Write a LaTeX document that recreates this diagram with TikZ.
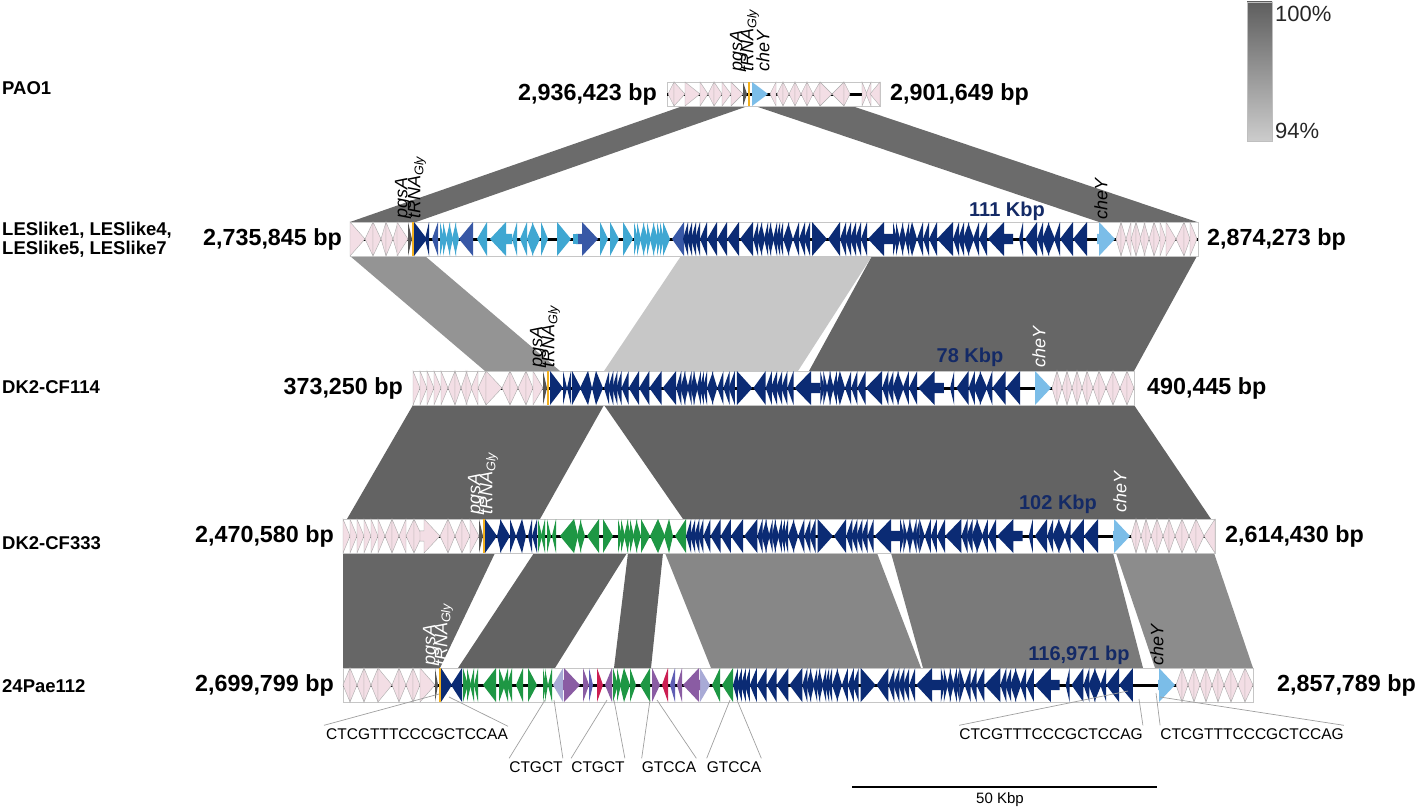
\documentclass[tikz,border=0pt]{standalone}
\usepackage{fontspec}
\setmainfont{Liberation Sans}
\definecolor{pinkg}{HTML}{F3DEE5}
\definecolor{navyg}{HTML}{0B2B74}
\definecolor{cyang}{HTML}{3FA7D2}
\definecolor{medblue}{HTML}{3858A6}
\definecolor{cheyc}{HTML}{7BBDE8}
\definecolor{greeng}{HTML}{1E9744}
\definecolor{purpleg}{HTML}{8A5CA3}
\definecolor{lavg}{HTML}{A8AAD6}
\definecolor{violetg}{HTML}{5F5DB4}
\definecolor{crimg}{HTML}{CC1E52}
\definecolor{orangel}{HTML}{F2B01E}
\definecolor{dgreyg}{HTML}{555555}
\definecolor{lblnavy}{HTML}{142A66}
\newcommand\fsz[1]{\fontsize{#1}{#1}\selectfont}
\def\gH{17}
\newcommand\genes[2]{%
  \foreach \ga/\gb/\gd in #2 {%
    \pgfmathsetmacro\gh{min(\gb-\ga,16)}%
    \pgfmathsetmacro\gs{0.3*\gH}%
    \ifnum\gd=1
      \pgfmathsetmacro\gk{\gb-\gh}%
      \path[#1] (\ga,-\gs) -- (\gk,-\gs) -- (\gk,-\gH) -- (\gb,0) -- (\gk,\gH) -- (\gk,\gs) -- (\ga,\gs) -- cycle;
    \else
      \pgfmathsetmacro\gk{\ga+\gh}%
      \path[#1] (\gb,-\gs) -- (\gk,-\gs) -- (\gk,-\gH) -- (\ga,0) -- (\gk,\gH) -- (\gk,\gs) -- (\gb,\gs) -- cycle;
    \fi}}
\tikzset{
  pinkgene/.style={fill=pinkg, draw=gray!65, line width=0.4pt},
  navygene/.style={fill=navyg},
  cyangene/.style={fill=cyang},
  medgene/.style={fill=medblue},
  cheygene/.style={fill=cheyc},
  greengene/.style={fill=greeng},
  purplegene/.style={fill=purpleg},
  lavgene/.style={fill=lavg},
  violetgene/.style={fill=violetg},
  crimgene/.style={fill=crimg},
  dgreygene/.style={fill=dgreyg},
  trackbox/.style={fill=white, draw=gray!45, line width=0.6pt},
  backbone/.style={line width=3pt, black},
  trna/.style={draw=orangel, line width=2pt},
  tracklab/.style={font=\fsz{18.5}\bfseries, anchor=west, inner sep=0},
  coordlab/.style={font=\fsz{23.3}\bfseries, inner sep=0},
  islandlab/.style={font=\fsz{20}\bfseries, text=lblnavy, inner sep=0},
  glab/.style={font=\fsz{18}\itshape, rotate=90, anchor=west, inner sep=0},
  seqlab/.style={font=\fsz{15.5}, inner sep=0},
  fan/.style={draw=gray!75, line width=0.7pt},
  band/.style={draw=none}
}
\def\navycore{0/5/-1, 4/9/-1, 8/13/-1, 12/17/-1, 17/24/-1, 24/34/-1, 34/44/-1, 44/56/-1, 57/70/-1, 70/75/-1, 74/79/-1, 78/82/1, 81/85/-1, 84/88/-1, 87/91/1, 90/94/-1, 93/97/-1, 96/100/-1, 100/106/-1, 105/110/1, 110/116/-1, 116/122/-1, 121/127/-1, 129/144/1, 145/157/-1, 157/163/-1, 162/168/-1, 167/173/-1, 172/178/-1, 178/184/-1, 185/210/-1, 210/214/1, 213/217/1, 216/220/-1, 219/223/1, 222/226/-1, 225/229/-1, 229/234/1, 234/240/-1, 240/246/-1, 246/254/-1, 254/270/-1, 270/276/-1, 275/281/-1, 280/286/-1, 285/291/1, 290/296/-1, 296/304/-1, 305/330/-1, 336/340/-1, 342/354/-1, 354/360/-1, 359/366/-1, 365/372/1, 371/377/-1, 377/390/-1, 390/404/-1}
\begin{document}
\begin{tikzpicture}[x=1pt,y=-1pt]
\useasboundingbox (0,0) rectangle (1418,808);

% ---------- synteny bands ----------
\fill[band, fill=black!58] (683,106) -- (748,106) -- (416,222) -- (350,222) -- cycle;
\fill[band, fill=black!58] (755,106) -- (852,106) -- (1197,222) -- (1099,222) -- cycle;
\fill[band, fill=black!42] (350,256) -- (425,256) -- (560,371) -- (485,371) -- cycle;
\fill[band, fill=black!22] (681,256) -- (872,256) -- (798,371) -- (604,371) -- cycle;
\fill[band, fill=black!60] (872,256) -- (1197,256) -- (1134,371) -- (809,371) -- cycle;
\fill[band, fill=black!61] (413,405) -- (604,405) -- (540,519) -- (347,519) -- cycle;
\fill[band, fill=black!61] (604,405) -- (1134,405) -- (1211,519) -- (683,519) -- cycle;
\fill[band, fill=black!60] (343,553) -- (495,553) -- (440,668) -- (343,668) -- cycle;
\fill[band, fill=black!61] (534,553) -- (627,553) -- (555,668) -- (458,668) -- cycle;
\fill[band, fill=black!61] (628,553) -- (663,553) -- (651,668) -- (614,668) -- cycle;
\fill[band, fill=black!47] (665,553) -- (877,553) -- (921,668) -- (711,668) -- cycle;
\fill[band, fill=black!52] (891,553) -- (1113,553) -- (1143,668) -- (923,668) -- cycle;
\fill[band, fill=black!45] (1116,553) -- (1214,553) -- (1253,668) -- (1155,668) -- cycle;

% ---------- PAO1 ----------
\begin{scope}[shift={(0,94)}]
\def\gH{12}
\draw[trackbox] (667,-12) rectangle (880,12);
\draw[backbone] (667,0) -- (880,0);
\genes{pinkgene}{{668/674/-1, 674/685/1, 685/700/1, 700/708/1, 708/714/-1, 714/722/1, 722/731/1, 731/743/1, 770/776/-1, 777/783/-1, 783/789/1, 789/795/-1, 795/801/1, 801/807/-1, 807/813/1, 813/820/-1, 820/832/1, 832/844/-1, 844/850/1, 862/867/1, 866/871/-1, 870/880/-1}}
\genes{dgreygene}{{743/747/1}}
\genes{cheygene}{{752/768/1}}
\draw[trna] (749,-12) -- (749,12);
\end{scope}
\node[glab] at (738,72) {pgsA};
\node[glab] at (750,72) {tRNA\textsubscript{Gly}};
\node[glab] at (763,72) {cheY};

% ---------- LESlike ----------
\begin{scope}[shift={(0,239)}]
\draw[trackbox] (350,-17) rectangle (1198,17);
\draw[backbone] (350,0) -- (1198,0);
\genes{pinkgene}{{350/365/1, 365/373/-1, 373/381/1, 381/386/-1, 386/393/1, 393/398/-1, 397/408/1, 1116/1121/-1, 1121/1126/1, 1126/1131/-1, 1131/1136/-1, 1136/1141/1, 1140/1145/-1, 1144/1149/1, 1149/1154/-1, 1154/1160/1, 1160/1166/1, 1166/1176/1, 1176/1184/-1, 1184/1190/1, 1190/1197/1}}
\genes{dgreygene}{{408/412/1}}
\genes{navygene}{{414/427/1, 425/429/-1}}
\genes{medgene}{{432/438/-1, 459/473/-1, 576/598/1, 672/684/-1}}
\genes{cyangene}{{440/444/1, 443/447/1, 446/450/-1, 449/453/1, 452/456/-1, 455/459/1, 477/487/-1, 490/512/-1, 512/517/-1, 520/527/-1, 527/533/-1, 532/540/1, 541/548/1, 557/571/1, 600/608/1, 610/619/1, 623/633/1, 634/638/1, 637/641/1, 640/644/-1, 643/648/1, 647/651/1, 650/654/-1, 653/658/1, 657/661/1, 660/664/1, 663/670/1}}
\fill[cyang] (573,-5) rectangle (578,5);
\begin{scope}[shift={(683,0)}]
\genes{navygene}{\navycore}
\end{scope}
\genes{cheygene}{{1097/1115/1}}
\draw[trna] (413,-17) -- (413,17);
\end{scope}
\node[glab] at (403,219) {pgsA};
\node[glab] at (417,219) {tRNA\textsubscript{Gly}};
\node[glab] at (1101,220) {cheY};

% ---------- DK2-CF114 ----------
\begin{scope}[shift={(0,388)}]
\draw[trackbox] (413,-17) rectangle (1134,17);
\draw[backbone] (413,0) -- (1134,0);
\genes{pinkgene}{{413/420/1, 420/427/1, 427/434/1, 434/441/1, 441/448/1, 448/455/-1, 455/461/1, 461/467/-1, 466/472/1, 471/478/-1, 478/486/-1, 486/502/1, 502/510/-1, 510/518/1, 518/526/-1, 526/533/1, 533/543/1, 1052/1057/-1, 1057/1062/1, 1062/1067/-1, 1067/1072/1, 1072/1077/-1, 1077/1082/1, 1082/1087/-1, 1087/1093/1, 1093/1099/-1, 1099/1106/1, 1106/1113/-1, 1113/1120/1, 1120/1127/-1, 1127/1134/1}}
\genes{dgreygene}{{543/547/1}}
\genes{navygene}{{550/563/1, 563/567/1, 567/571/-1, 572/581/1, 580/588/-1, 588/592/1, 592/596/-1, 596/603/1}}
\begin{scope}[shift={(604,0)}, xscale=1.03]
\genes{navygene}{\navycore}
\end{scope}
\genes{cheygene}{{1035/1051/1}}
\draw[trna] (548,-17) -- (548,17);
\end{scope}
\node[glab] at (538,368) {pgsA};
\node[glab] at (551,368) {tRNA\textsubscript{Gly}};
\node[glab, text=white] at (1039,368) {cheY};

% ---------- DK2-CF333 ----------
\begin{scope}[shift={(0,536)}]
\draw[trackbox] (343,-17) rectangle (1215,17);
\draw[backbone] (343,0) -- (1215,0);
\genes{pinkgene}{{343/350/1, 350/357/1, 357/364/1, 364/371/1, 371/378/1, 378/385/1, 385/392/-1, 392/399/1, 399/406/-1, 406/414/-1, 414/422/1, 420/440/1, 440/448/-1, 448/455/1, 455/462/-1, 462/470/1, 470/479/1, 1131/1136/-1, 1136/1141/1, 1141/1146/-1, 1146/1151/1, 1151/1157/-1, 1157/1163/1, 1163/1169/-1, 1169/1175/1, 1175/1182/-1, 1182/1189/1, 1189/1196/-1, 1196/1204/1, 1204/1215/-1}}
\genes{dgreygene}{{479/483/1}}
\genes{navygene}{{485/497/1, 497/501/-1, 500/510/1, 510/516/1, 516/522/-1, 522/526/1, 528/532/-1, 532/537/-1}}
\genes{greengene}{{538/542/1, 541/545/-1, 547/551/1, 552/556/-1, 560/574/-1, 574/578/1, 577/581/-1, 580/585/1, 587/599/-1, 603/613/1, 618/622/1, 621/625/1, 624/628/-1, 627/631/1, 630/634/1, 633/637/-1, 636/641/1, 641/650/1, 650/658/-1, 658/665/1, 664/669/-1, 669/673/1, 675/686/-1}}
\begin{scope}[shift={(686,0)}, xscale=1.02]
\genes{navygene}{\navycore}
\end{scope}
\genes{cheygene}{{1113/1130/1}}
\draw[trna] (484,-17) -- (484,17);
\end{scope}
\node[glab, text=white] at (476,515) {pgsA};
\node[glab, text=white] at (489,515) {tRNA\textsubscript{Gly}};
\node[glab, text=white] at (1120,513) {cheY};

% ---------- 24Pae112 ----------
\begin{scope}[shift={(0,685)}]
\draw[trackbox] (343,-17) rectangle (1253,17);
\draw[backbone] (343,0) -- (1253,0);
\genes{pinkgene}{{343/350/-1, 350/357/1, 357/364/-1, 364/371/1, 371/378/-1, 378/392/1, 392/399/-1, 399/406/1, 406/413/-1, 413/420/1, 420/435/1, 1176/1182/-1, 1182/1188/1, 1188/1194/-1, 1194/1200/1, 1200/1206/-1, 1206/1212/1, 1212/1218/-1, 1218/1224/1, 1224/1231/-1, 1231/1238/1, 1238/1245/-1, 1245/1253/1}}
\genes{dgreygene}{{435/438/1}}
\genes{navygene}{{441/452/1, 451/462/-1}}
\genes{greengene}{{463/468/1, 467/471/1, 470/474/-1, 474/478/-1, 483/496/-1, 499/505/1, 503/508/-1, 507/512/-1, 516/523/-1, 528/537/1, 543/546/1, 545/548/1, 548/552/-1, 613/618/1, 617/621/1, 620/624/-1, 624/630/1, 630/636/1, 640/650/-1, 712/720/-1, 722/733/-1}}
\genes{lavgene}{{553/563/-1, 700/710/1}}
\genes{purplegene}{{563/580/1, 583/589/1, 605/612/-1, 652/660/1, 677/682/-1, 683/700/-1}}
\genes{violetgene}{{589/593/1, 670/675/-1}}
\genes{crimgene}{{597/603/1, 662/668/-1}}
\begin{scope}[shift={(733,0)}, xscale=0.99]
\genes{navygene}{\navycore}
\end{scope}
\genes{cheygene}{{1158/1175/1}}
\draw[trna] (440,-17) -- (440,17);
\end{scope}
\node[glab, text=white] at (431,666) {pgsA};
\node[glab, text=white] at (444,666) {tRNA\textsubscript{Gly}};
\node[glab] at (1157,666) {cheY};

% ---------- names ----------
\node[tracklab] at (2,88.5) {PAO1};
\node[tracklab] at (2,230) {LESlike1, LESlike4,};
\node[tracklab] at (2,249) {LESlike5, LESlike7};
\node[tracklab] at (2,387.5) {DK2-CF114};
\node[tracklab] at (2,543) {DK2-CF333};
\node[tracklab] at (2,686) {24Pae112};

% ---------- coordinates ----------
\node[coordlab, anchor=east] at (657,94) {2,936,423 bp};
\node[coordlab, anchor=west] at (890,94) {2,901,649 bp};
\node[coordlab, anchor=east] at (342,239) {2,735,845 bp};
\node[coordlab, anchor=west] at (1207,239) {2,874,273 bp};
\node[coordlab, anchor=east] at (403,388) {373,250 bp};
\node[coordlab, anchor=west] at (1147,388) {490,445 bp};
\node[coordlab, anchor=east] at (334,536) {2,470,580 bp};
\node[coordlab, anchor=west] at (1225,536) {2,614,430 bp};
\node[coordlab, anchor=east] at (334,685) {2,699,799 bp};
\node[coordlab, anchor=west] at (1277,685) {2,857,789 bp};

% ---------- island sizes ----------
\node[islandlab] at (1007,211) {111 Kbp};
\node[islandlab] at (970,357) {78 Kbp};
\node[islandlab] at (1058,504) {102 Kbp};
\node[islandlab] at (1079,655) {116,971 bp};

% ---------- insertion-site sequences ----------
\node[seqlab] (s1) at (417,734) {CTCGTTTCCCGCTCCAA};
\node[seqlab] (s2) at (536,767) {CTGCT};
\node[seqlab] (s3) at (598,767) {CTGCT};
\node[seqlab] (s4) at (669,767) {GTCCA};
\node[seqlab] (s5) at (734,767) {GTCCA};
\node[seqlab] (s6) at (1051,734) {CTCGTTTCCCGCTCCAG};
\node[seqlab] (s7) at (1252,734) {CTCGTTTCCCGCTCCAG};
\coordinate (t1a) at (439,694); \coordinate (t1b) at (449,697);
\coordinate (t2a) at (545,700); \coordinate (t2b) at (554,700);
\coordinate (t3a) at (607,700); \coordinate (t3b) at (614,700);
\coordinate (t4a) at (650,700); \coordinate (t4b) at (657,700);
\coordinate (t5a) at (730,700); \coordinate (t5b) at (737,700);
\coordinate (t6a) at (1128,691); \coordinate (t6b) at (1139,699);
\coordinate (t7a) at (1156,693); \coordinate (t7b) at (1160,697);
\draw[fan] ([xshift=-2pt,yshift=3pt]s1.north west) -- (t1a);
\draw[fan] ([yshift=2pt]s1.north east) -- (t1b);
\foreach \s/\t in {s2/t2, s3/t3, s4/t4, s5/t5, s6/t6, s7/t7}{
  \draw[fan] ([yshift=3pt]\s.north west) -- (\t a);
  \draw[fan] ([yshift=3pt]\s.north east) -- (\t b);
}

% ---------- scale bar ----------
\coordinate (sb1) at (852,787);
\coordinate (sb2) at (1157,787);
\draw[line width=2pt] (sb1) -- (sb2);
\node[seqlab, font=\fsz{15}] (sbl) at (1000,800) {50 Kbp};

% ---------- legend ----------
\shade[top color=black!63, bottom color=black!20] (1247,2) rectangle (1272,141);
\draw[gray!50, line width=0.5pt] (1247,2) rectangle (1272,141);
\node[font=\fsz{22}, anchor=west, inner sep=0, text=black!85] (l100) at (1275,14) {100\%};
\node[font=\fsz{22}, anchor=west, inner sep=0, text=black!85] (l94) at (1275,131) {94\%};
\end{tikzpicture}
\end{document}
